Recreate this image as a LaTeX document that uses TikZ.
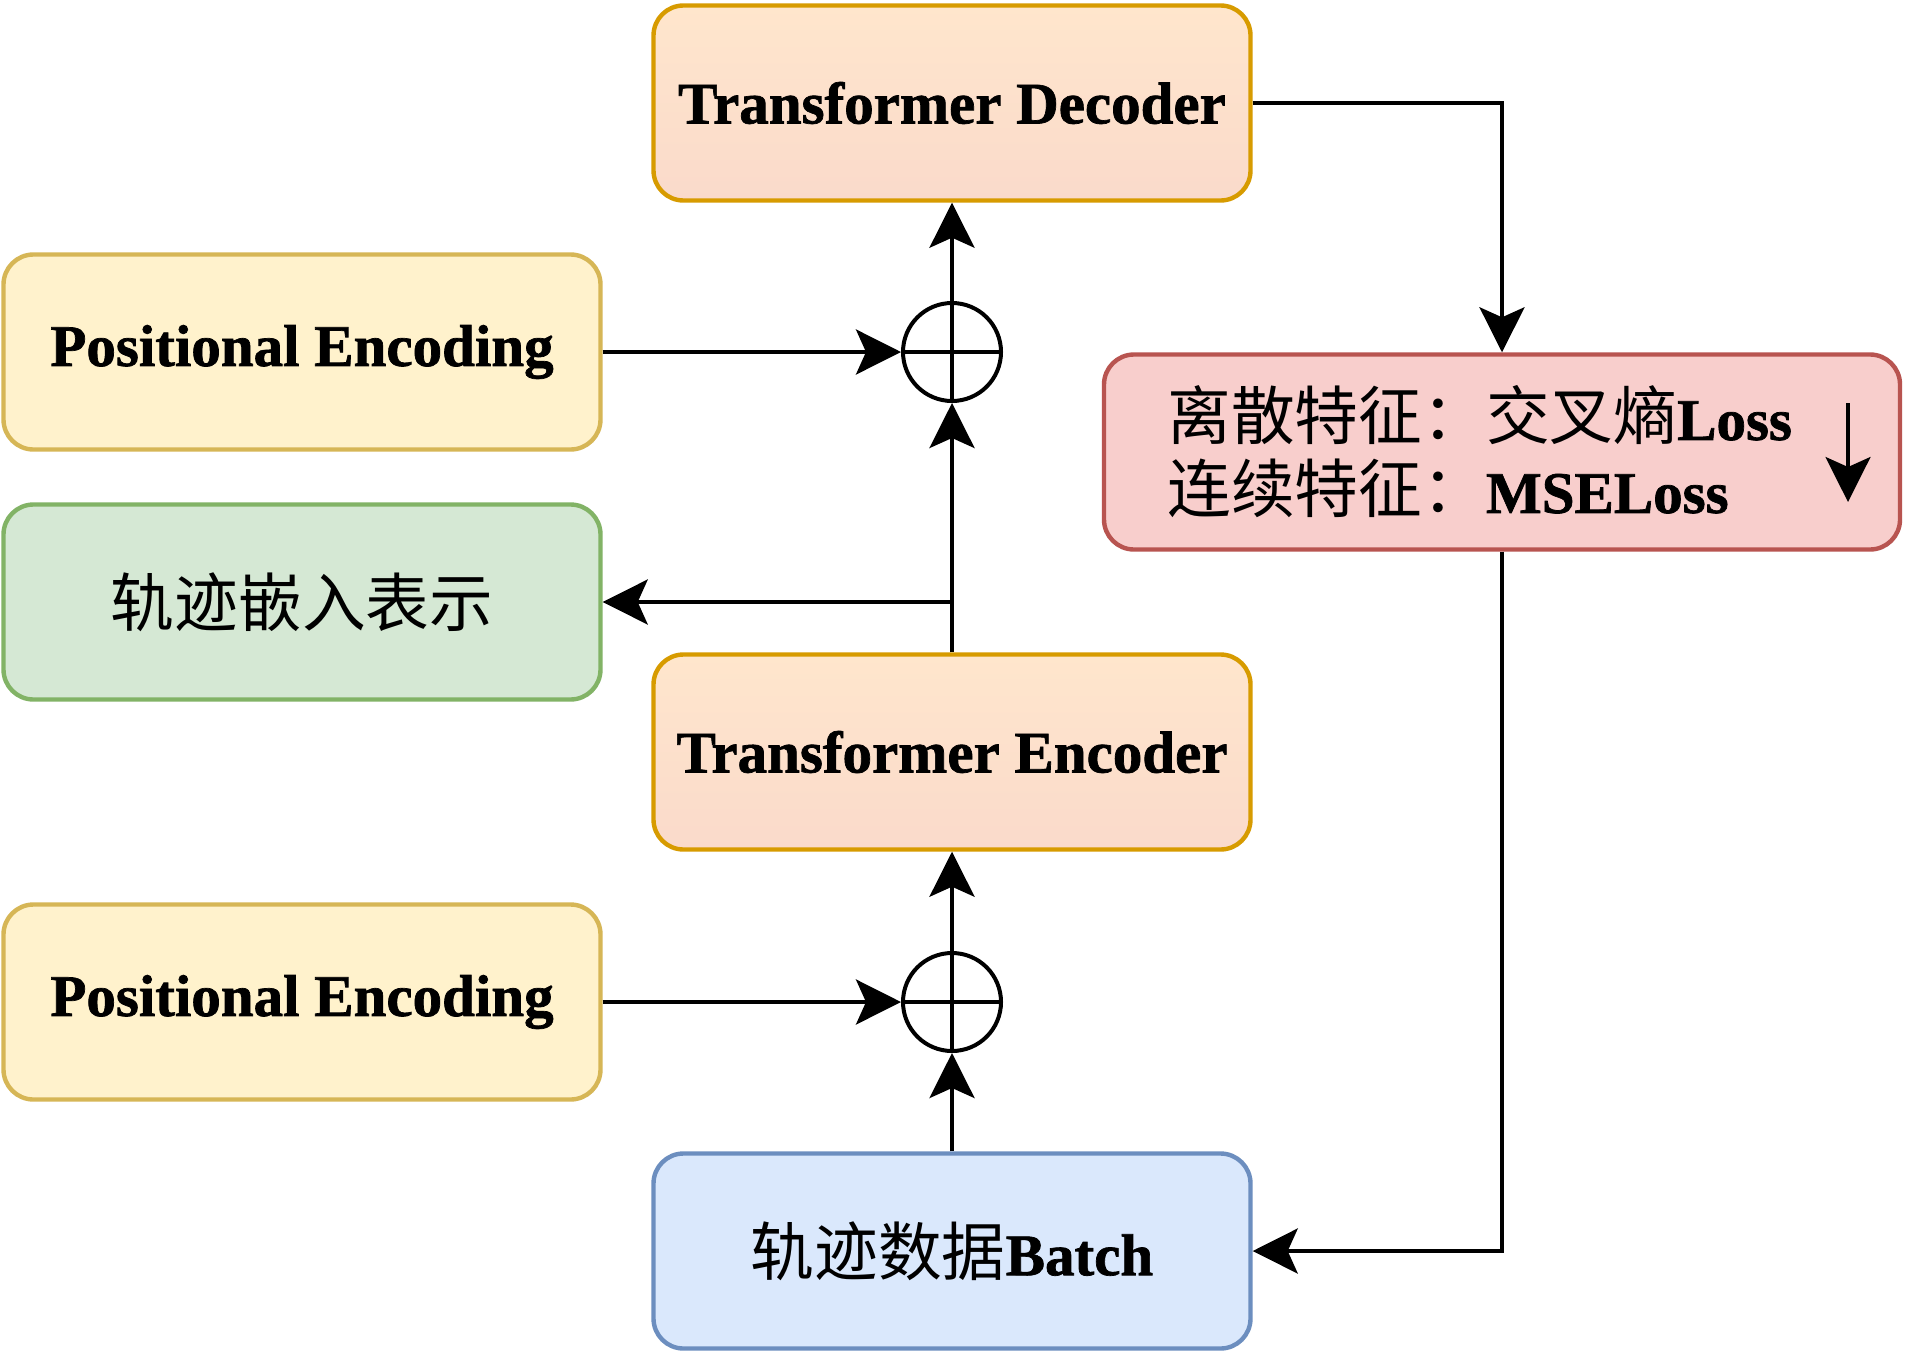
\documentclass[tikz,border=0pt]{standalone}
\usepackage{fontspec}
\setmainfont{Liberation Serif}[BoldFont={Liberation Serif Bold}, BoldFeatures={FakeBold=1.2}]
\newfontfamily\cjk{Noto Sans CJK SC}[Scale=1.08, BoldFont={Noto Sans CJK SC}]
\usetikzlibrary{arrows.meta}
\definecolor{orfill}{HTML}{FFE6CC}
\definecolor{orfillb}{HTML}{FADACB}
\definecolor{ordraw}{HTML}{D79B00}
\definecolor{yefill}{HTML}{FFF2CC}
\definecolor{yedraw}{HTML}{D6B656}
\definecolor{grfill}{HTML}{D5E8D4}
\definecolor{grdraw}{HTML}{82B366}
\definecolor{blfill}{HTML}{DAE8FC}
\definecolor{bldraw}{HTML}{6C8EBF}
\definecolor{rdfill}{HTML}{F8CECC}
\definecolor{rddraw}{HTML}{B85450}
\tikzset{
  txt/.style={font=\fontsize{29.5}{36.5}\selectfont\bfseries},
  box/.style={rectangle, rounded corners=15pt, line width=2.2pt,
    minimum width=298.5pt, minimum height=97.5pt, inner sep=0pt, txt},
  orbox/.style={box, draw=ordraw, top color=orfill, bottom color=orfillb},
  yebox/.style={box, draw=yedraw, fill=yefill},
  grbox/.style={box, draw=grdraw, fill=grfill},
  blbox/.style={box, draw=bldraw, fill=blfill},
  rdbox/.style={box, draw=rddraw, fill=rdfill, minimum width=398pt},
  plus/.style={circle, draw=black, line width=2pt, minimum size=49pt, inner sep=0pt},
  conn/.style={draw=black, line width=2pt, -{Stealth[length=22.5pt,width=22.5pt,inset=5pt]}},
}
\begin{document}
\begin{tikzpicture}[x=0.5pt,y=-0.5pt]
\useasboundingbox (0,0) rectangle (1910,1360);
\fill[white] (0,0) rectangle (1910,1360);

\node[orbox] (dec) at (952,103) {Transformer Decoder};
\node[orbox] (enc) at (952,752) {Transformer Encoder};
\node[blbox] (batch) at (952,1251) {{\cjk\mdseries 轨迹数据}Batch};
\node[yebox] (pe1) at (302,352) {Positional Encoding};
\node[grbox] (emb) at (302,602) {\cjk\mdseries 轨迹嵌入表示};
\node[yebox] (pe2) at (302,1002) {Positional Encoding};
\node[rdbox] (loss) at (1502,452) {};
\node[txt, anchor=west, align=left, inner sep=0pt] (losstext) at (1167,452)
  {{\cjk\mdseries 离散特征：交叉熵}Loss\\{\cjk\mdseries 连续特征：}MSELoss};
\coordinate (ra1) at (1848,403);
\coordinate (ra2) at (1848,502);
\draw[conn, line width=1.6pt] (ra1) -- (ra2);

\node[plus] (c1) at (952,352) {};
\node[plus] (c2) at (952,1002) {};
\draw[line width=2pt] (c1.north) -- (c1.south) (c1.west) -- (c1.east);
\draw[line width=2pt] (c2.north) -- (c2.south) (c2.west) -- (c2.east);

\coordinate (br) at (enc.north |- emb.east);
\draw[conn] (dec.east) -| (loss.north);
\draw[conn] (loss.south) |- (batch.east);
\draw[conn] (batch.north) -- (c2.south);
\draw[conn] (pe2.east) -- (c2.west);
\draw[conn] (c2.north) -- (enc.south);
\draw[conn] (enc.north) -- (c1.south);
\draw[conn] (br) -- (emb.east);
\draw[conn] (pe1.east) -- (c1.west);
\draw[conn] (c1.north) -- (dec.south);
\end{tikzpicture}
\end{document}
